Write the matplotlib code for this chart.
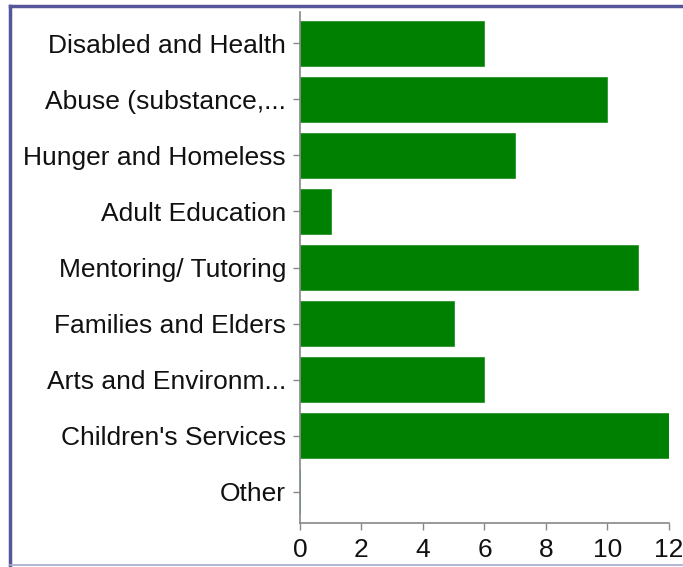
import matplotlib.pyplot as plt
from matplotlib.lines import Line2D

categories = ['Disabled and Health', 'Abuse (substance,...', 'Hunger and Homeless',
              'Adult Education', 'Mentoring/ Tutoring', 'Families and Elders',
              'Arts and Environm...', "Children's Services", 'Other']
values = [6, 10, 7, 1, 11, 5, 6, 12, 0]
xticks = [0, 2, 4, 6, 8, 10, 12]

plt.rcParams['font.family'] = ['Liberation Sans', 'DejaVu Sans']

fig = plt.figure(figsize=(6.83, 5.67), dpi=100)
ax = fig.add_axes([0.4392, 0.0776, 0.5403, 0.9012])

y_pos = list(range(len(categories)))
ax.barh(y_pos, values, height=0.8, color='#008000', edgecolor='#2a962a',
        linewidth=0.6, align='center')
ax.set_ylim(len(categories) - 0.44, -0.56)
ax.set_xlim(0, 12)
ax.set_yticks(y_pos)
ax.set_yticklabels(categories)
ax.set_xticks(xticks)
ax.tick_params(axis='both', labelsize=19, colors='#888888', labelcolor='#111111',
               length=5, width=1)
ax.tick_params(axis='y', pad=5)
ax.tick_params(axis='x', pad=6)
for s in ['top', 'right']:
    ax.spines[s].set_visible(False)
for s in ['left', 'bottom']:
    ax.spines[s].set_color('#888888')
    ax.spines[s].set_linewidth(1.2)

# outer frame
W, H = 683, 567
fig.add_artist(Line2D([10 / W, 1], [1 - 6 / H, 1 - 6 / H], color='#55559a', lw=2.5,
                      transform=fig.transFigure))
fig.add_artist(Line2D([10 / W, 10 / W], [1 - 6 / H, 1 - 565 / H], color='#55559a', lw=2.5,
                      transform=fig.transFigure))
fig.add_artist(Line2D([10 / W, 1], [1 - 565 / H, 1 - 565 / H], color='#a8a8cc', lw=1.2,
                      transform=fig.transFigure))

fig.savefig('out.png', dpi=100)
